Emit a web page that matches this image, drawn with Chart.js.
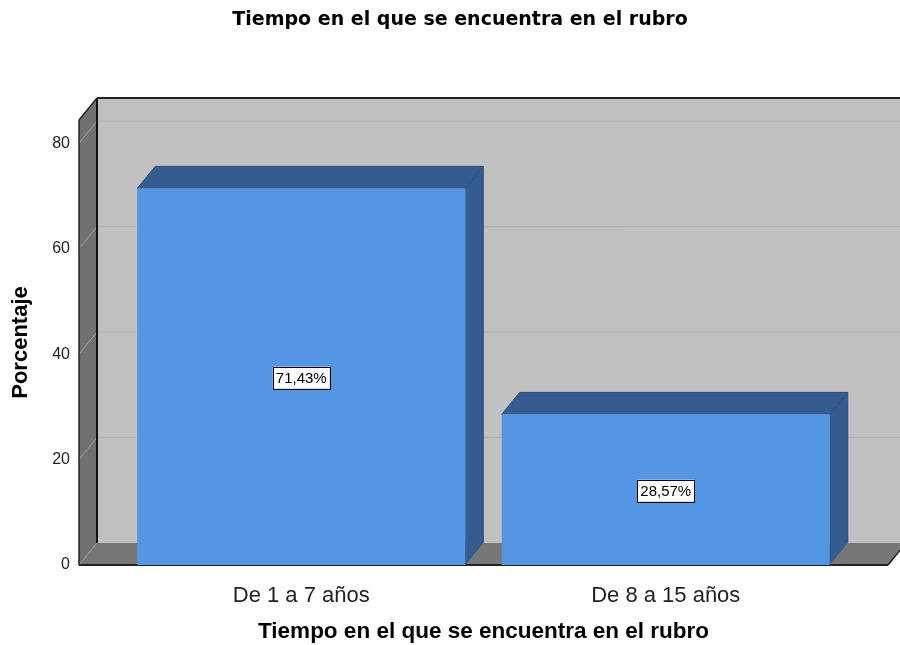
<!DOCTYPE html>
<html>
<head>
<meta charset="utf-8">
<script src="https://cdn.jsdelivr.net/npm/chart.js@4"></script>
<style>
html, body { margin: 0; padding: 0; background: #fff; }
#wrap { width: 900px; height: 645px; }
</style>
</head>
<body>
<div id="wrap"><canvas id="chart1"></canvas></div>
<script>
// ----------------------------
// Data
// ----------------------------
const chartTitle = "Tiempo en el que se encuentra en el rubro";
const xAxisTitle = "Tiempo en el que se encuentra en el rubro";
const yAxisTitle = "Porcentaje";
const categories = ["De 1 a 7 años", "De 8 a 15 años"];
const percentages = [71.43, 28.57];
const valueLabels = ["71,43%", "28,57%"];
const yTickValues = [0, 20, 40, 60, 80];

// 3d look (SPSS style box)
const DX = 18, DY = -22;   // depth offset
const OVERHANG = 40;       // walls reach past the category range

function poly(ctx, pts, fill) {
  ctx.beginPath();
  ctx.moveTo(pts[0][0], pts[0][1]);
  for (let i = 1; i < pts.length; i++) ctx.lineTo(pts[i][0], pts[i][1]);
  ctx.closePath();
  ctx.fillStyle = fill;
  ctx.fill();
}

function line(ctx, x1, y1, x2, y2, color, w) {
  ctx.beginPath();
  ctx.moveTo(x1, y1);
  ctx.lineTo(x2, y2);
  ctx.strokeStyle = color;
  ctx.lineWidth = w;
  ctx.stroke();
}

const box3d = {
  id: "box3d",
  beforeDatasetsDraw(chart) {
    const ctx = chart.ctx;
    const a = chart.chartArea;
    const ys = chart.scales.y;
    const fl = a.left - OVERHANG, fr = a.right + OVERHANG;
    const y0 = ys.getPixelForValue(0), yt = a.top;
    ctx.save();
    // back wall
    poly(ctx, [[fl + DX, yt + DY], [fr + DX, yt + DY], [fr + DX, y0 + DY], [fl + DX, y0 + DY]], "#c0c0c0");
    // left wall
    poly(ctx, [[fl, yt], [fl + DX, yt + DY], [fl + DX, y0 + DY], [fl, y0]], "#717171");
    // floor
    poly(ctx, [[fl, y0], [fl + DX, y0 + DY], [fr + DX, y0 + DY], [fr, y0]], "#777777");
    // grid lines
    yTickValues.forEach(v => {
      if (v === 0) return;
      const py = ys.getPixelForValue(v);
      line(ctx, fl + DX, py + DY, fr + DX, py + DY, "#b2b2b2", 1);
      line(ctx, fl, py, fl + DX, py + DY, "#a0a0a0", 1);
    });
    line(ctx, fl, y0, fl + DX, y0 + DY, "#9a9a9a", 1);
    // edges
    line(ctx, fl + DX, yt + DY, fr + DX, yt + DY, "#222", 2);
    line(ctx, fl + DX, yt + DY, fl + DX, y0 + DY, "#111", 2);
    line(ctx, fl, yt, fl + DX, yt + DY, "#222", 1.5);
    line(ctx, fl, yt, fl, y0, "#222", 1.5);
    line(ctx, fl, y0, fr, y0, "#222", 2);
    line(ctx, fr, y0, fr + DX, y0 + DY, "#222", 1.5);
    ctx.restore();
  },
  afterDatasetsDraw(chart) {
    const ctx = chart.ctx;
    const meta = chart.getDatasetMeta(0);
    ctx.save();
    meta.data.forEach((bar, i) => {
      const p = bar.getProps(["x", "y", "base", "width"], true);
      const l = p.x - p.width / 2, r = p.x + p.width / 2;
      // top + side faces
      poly(ctx, [[l, p.y], [l + DX, p.y + DY], [r + DX, p.y + DY], [r, p.y]], "#345c91");
      poly(ctx, [[r, p.y], [r + DX, p.y + DY], [r + DX, p.base + DY], [r, p.base]], "#345c91");
      line(ctx, r, p.y, r + DX, p.y + DY, "#2b4c78", 1);
      line(ctx, l, p.y, l + DX, p.y + DY, "#2b4c78", 1);
      line(ctx, l + DX, p.y + DY, r + DX, p.y + DY, "#2b4c78", 1);
      line(ctx, r + DX, p.y + DY, r + DX, p.base + DY, "#2b4c78", 1);

      // value label box
      const txt = valueLabels[i];
      ctx.font = "15px 'Liberation Sans', Arial, sans-serif";
      const tw = ctx.measureText(txt).width;
      const bw = tw + 6, bh = 22;
      const cy = (p.y + p.base) / 2 + 1;
      ctx.fillStyle = "#fff";
      ctx.fillRect(p.x - bw / 2, cy - bh / 2, bw, bh);
      ctx.strokeStyle = "#000";
      ctx.lineWidth = 1;
      ctx.strokeRect(Math.round(p.x - bw / 2) + 0.5, Math.round(cy - bh / 2) + 0.5, Math.round(bw), bh);
      ctx.fillStyle = "#000";
      ctx.textAlign = "center";
      ctx.textBaseline = "middle";
      ctx.fillText(txt, p.x, cy + 1);
    });
    ctx.restore();
  }
};

const ctx = document.getElementById("chart1").getContext("2d");
new Chart(ctx, {
  type: "bar",
  data: {
    labels: categories,
    datasets: [{
      data: percentages,
      backgroundColor: "#5495e4",
      borderWidth: 0,
      barPercentage: 0.9,
      categoryPercentage: 1.0
    }]
  },
  options: {
    responsive: true,
    maintainAspectRatio: false,
    animation: false,
    events: [],
    layout: { padding: { left: 20, right: 0, top: 0, bottom: 0 } },
    plugins: {
      legend: { display: false },
      tooltip: { enabled: false },
      title: {
        display: true,
        text: chartTitle,
        color: "#000",
        font: { family: "DejaVu Sans", size: 19, weight: "bold" },
        padding: { top: 8.6, bottom: 88.6 }
      }
    },
    scales: {
      x: {
        grid: { display: false },
        border: { display: false },
        ticks: {
          color: "#222",
          font: { family: "Liberation Sans", size: 22 },
          padding: 10,
          maxRotation: 0
        },
        title: {
          display: true,
          text: xAxisTitle,
          color: "#000",
          font: { family: "Liberation Sans", size: 22.5, weight: "bold" },
          padding: { top: 0, bottom: 0 }
        },
        afterFit: s => { s.height = 80; }
      },
      y: {
        min: 0,
        max: 84.4,
        afterBuildTicks: s => { s.ticks = yTickValues.map(v => ({ value: v })); },
        grid: { display: false },
        border: { display: false },
        ticks: {
          color: "#222",
          font: { family: "Liberation Sans", size: 16 },
          padding: 41
        },
        title: {
          display: true,
          text: yAxisTitle,
          color: "#000",
          font: { family: "Liberation Sans", size: 22, weight: "bold" },
          padding: { top: -12, bottom: 0 }
        },
        afterFit: s => { s.width = 99; }
      },
      // empty axis on the right, only keeps room for the 3d depth
      yRight: {
        position: "right",
        display: true,
        grid: { display: false },
        border: { display: false },
        ticks: { display: false },
        afterFit: s => { s.width = 52; }
      }
    }
  },
  plugins: [box3d]
});
</script>
</body>
</html>
